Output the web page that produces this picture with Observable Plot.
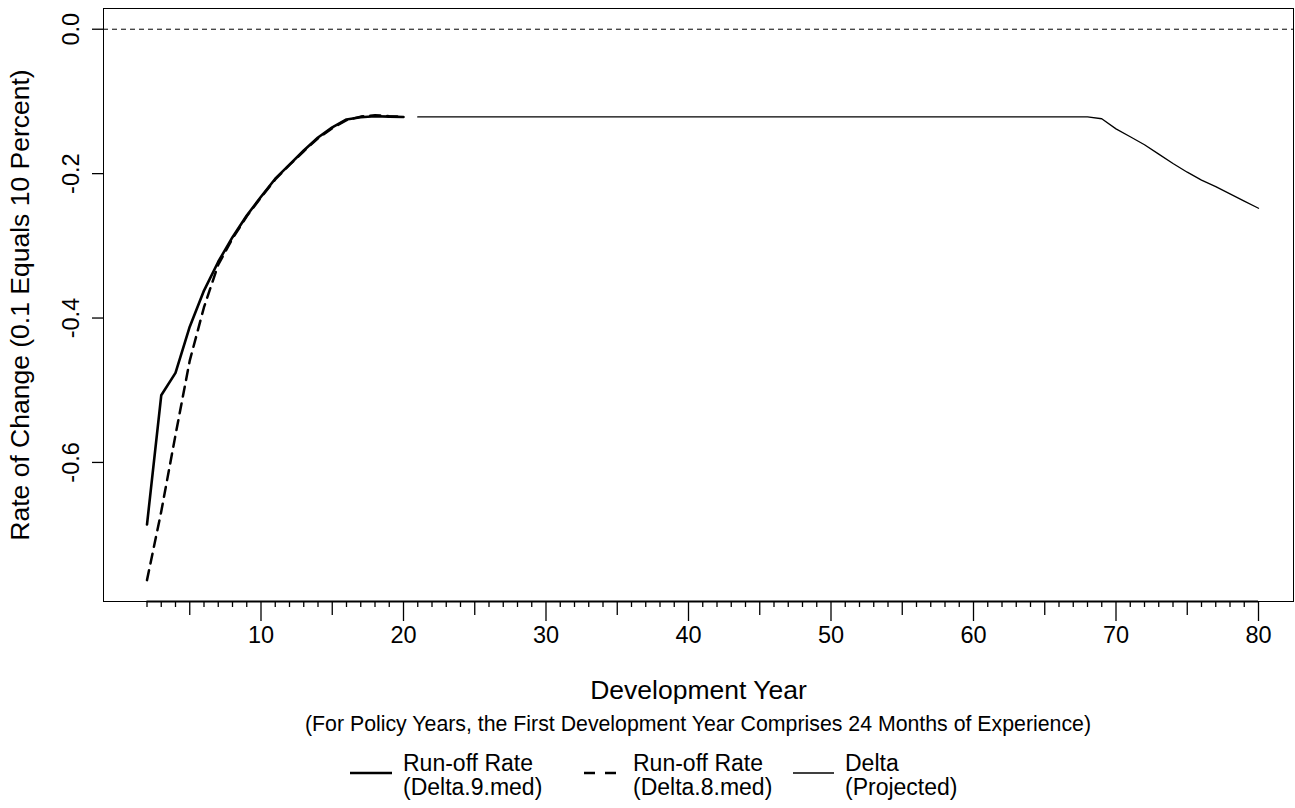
<!DOCTYPE html>
<html>
<head>
<meta charset="utf-8">
<script src="https://cdn.jsdelivr.net/npm/d3@7"></script>
<script src="https://cdn.jsdelivr.net/npm/@observablehq/plot@0.6"></script>
<style>
  html, body { margin: 0; padding: 0; background: #fff; }
  body { width: 1295px; height: 808px; position: relative; overflow: hidden; font-family: "Liberation Sans", Arial, sans-serif; color: #000; }
  #chart { position: absolute; left: 0; top: 0; }
  .abs { position: absolute; white-space: nowrap; }
  .caption { font-size: 21.3px; transform: translate(-50%, -50%); }
  .leg-text { font-size: 23px; line-height: 24px; height: 24px; }
</style>
</head>
<body>
<div id="chart"></div>
<div id="caption" class="abs caption"></div>
<div id="legend"></div>
<script>
// ---- data ----
const years9 = [2,3,4,5,6,7,8,9,10,11,12,13,14,15,16,17,18,19,20];
const delta9 = [-0.686,-0.507,-0.476,-0.412,-0.362,-0.322,-0.288,-0.258,-0.232,-0.207,-0.1875,-0.168,-0.150,-0.136,-0.125,-0.122,-0.1205,-0.121,-0.1215];
const years8 = [2,3,4,5,6,7,8,9,10,11,12,13,14,15,16,17,18,19,20];
const delta8 = [-0.763,-0.668,-0.562,-0.459,-0.385,-0.326,-0.290,-0.259,-0.233,-0.208,-0.188,-0.169,-0.151,-0.137,-0.126,-0.121,-0.119,-0.1205,-0.121];
const yearsProj = [21,22,23,24,25,26,27,28,29,30,31,32,33,34,35,36,37,38,39,40,41,42,43,44,45,46,47,48,49,50,51,52,53,54,55,56,57,58,59,60,61,62,63,64,65,66,67,68,69,70,71,72,73,74,75,76,77,78,79,80];
const deltaProj = [-0.1215,-0.1215,-0.1215,-0.1215,-0.1215,-0.1215,-0.1215,-0.1215,-0.1215,-0.1215,
                   -0.1215,-0.1215,-0.1215,-0.1215,-0.1215,-0.1215,-0.1215,-0.1215,-0.1215,-0.1215,
                   -0.1215,-0.1215,-0.1215,-0.1215,-0.1215,-0.1215,-0.1215,-0.1215,-0.1215,-0.1215,
                   -0.1215,-0.1215,-0.1215,-0.1215,-0.1215,-0.1215,-0.1215,-0.1215,-0.1215,-0.1215,
                   -0.1215,-0.1215,-0.1215,-0.1215,-0.1215,-0.1215,-0.1215,-0.1215,
                   -0.124,-0.138,-0.149,-0.160,-0.173,-0.186,-0.198,-0.209,-0.218,-0.228,-0.238,-0.248];
const xMajorTicks = [10,20,30,40,50,60,70,80];
const xMediumTicks = [5,15,25,35,45,55,65,75];
const xMinorTicks = [2,3,4,6,7,8,9,11,12,13,14,16,17,18,19,21,22,23,24,26,27,28,29,31,32,33,34,36,37,38,39,41,42,43,44,46,47,48,49,51,52,53,54,56,57,58,59,61,62,63,64,66,67,68,69,71,72,73,74,76,77,78,79];
const yTicks = [0, -0.2, -0.4, -0.6];
const xAxisStart = 2, xAxisEnd = 80;
const yLabel = "Rate of Change (0.1 Equals 10 Percent)";
const xLabel = "Development Year";
const captionText = "(For Policy Years, the First Development Year Comprises 24 Months of Experience)";
const legendLine1 = ["Run-off Rate", "Run-off Rate", "Delta"];
const legendLine2 = ["(Delta.9.med)", "(Delta.8.med)", "(Projected)"];

// ---- tables ----
const rows9 = years9.map((x, i) => ({x, y: delta9[i]}));
const rows8 = years8.map((x, i) => ({x, y: delta8[i]}));
const rowsP = yearsProj.map((x, i) => ({x, y: deltaProj[i]}));

const xDomain = [-1.0526, 82.456];
const yDomain = [-0.7926, 0.0287];
const FONT = "Liberation Sans, Arial, sans-serif";

const chart = Plot.plot({
  width: 1295,
  height: 706,
  marginLeft: 103,
  marginRight: 2,
  marginTop: 8,
  marginBottom: 105,
  style: {fontFamily: FONT, color: "#000", background: "#fff", overflow: "visible"},
  x: {domain: xDomain},
  y: {domain: yDomain},
  marks: [
    Plot.frame({stroke: "#000", strokeWidth: 1}),
    Plot.ruleY([0], {stroke: "#000", strokeWidth: 1, strokeDasharray: "5,4"}),
    Plot.ruleY([yDomain[0]], {x1: xAxisStart, x2: xAxisEnd, stroke: "#000", strokeWidth: 2}),
    Plot.axisX(xMajorTicks, {anchor: "bottom", tickSize: 20, tickPadding: 5, fontSize: 23.5, tickFormat: d => String(d), label: null, stroke: "#000", strokeWidth: 1.3}),
    Plot.axisX(xMediumTicks, {anchor: "bottom", tickSize: 14, tickFormat: () => "", label: null, stroke: "#000", strokeWidth: 1.3}),
    Plot.axisX(xMinorTicks, {anchor: "bottom", tickSize: 6, tickFormat: () => "", label: null, stroke: "#000", strokeWidth: 1.3}),
    Plot.axisY(yTicks, {anchor: "left", tickSize: 11, tickFormat: () => "", label: null, stroke: "#000", strokeWidth: 1.3}),
    Plot.text(yTicks, {y: d => d, text: d => d.toFixed(1), frameAnchor: "left", dx: -32, rotate: -90, fontSize: 23.5, textAnchor: "middle", lineAnchor: "middle", fill: "#000"}),
    Plot.text([yLabel], {text: d => d, frameAnchor: "left", dx: -83, rotate: -90, fontSize: 26.5, textAnchor: "middle", lineAnchor: "middle", fill: "#000"}),
    Plot.text([xLabel], {text: d => d, frameAnchor: "bottom", dy: 89, fontSize: 26.5, textAnchor: "middle", lineAnchor: "middle", fill: "#000"}),
    Plot.line(rowsP, {x: "x", y: "y", stroke: "#000", strokeWidth: 1.3}),
    Plot.line(rows8, {x: "x", y: "y", stroke: "#000", strokeWidth: 2.5, strokeDasharray: "10,7"}),
    Plot.line(rows9, {x: "x", y: "y", stroke: "#000", strokeWidth: 2.6})
  ]
});
document.getElementById("chart").appendChild(chart);

// caption
const cap = document.getElementById("caption");
cap.textContent = captionText;
cap.style.left = "698px";
cap.style.top = "724px";

// legend
const legend = document.getElementById("legend");
const sampleX = [350, 584, 793];
const sampleW = [42, 32, 41];
const textX = [403, 633, 845];
const lineTops = [751, 775];
const sampleStyle = [
  {w: 2.6, dash: null},
  {w: 2.5, dash: "11,10"},
  {w: 1.3, dash: null}
];
for (let i = 0; i < 3; i++) {
  const svgNS = "http://www.w3.org/2000/svg";
  const s = document.createElementNS(svgNS, "svg");
  s.setAttribute("width", sampleW[i]);
  s.setAttribute("height", 6);
  s.style.position = "absolute";
  s.style.left = sampleX[i] + "px";
  s.style.top = "770px";
  const ln = document.createElementNS(svgNS, "line");
  ln.setAttribute("x1", 0); ln.setAttribute("x2", sampleW[i]);
  ln.setAttribute("y1", 3); ln.setAttribute("y2", 3);
  ln.setAttribute("stroke", "#000");
  ln.setAttribute("stroke-width", sampleStyle[i].w);
  if (sampleStyle[i].dash) ln.setAttribute("stroke-dasharray", sampleStyle[i].dash);
  s.appendChild(ln);
  legend.appendChild(s);
  [legendLine1[i], legendLine2[i]].forEach((txt, j) => {
    const t = document.createElement("div");
    t.className = "abs leg-text";
    t.style.left = textX[i] + "px";
    t.style.top = lineTops[j] + "px";
    t.textContent = txt;
    legend.appendChild(t);
  });
}
</script>
</body>
</html>
